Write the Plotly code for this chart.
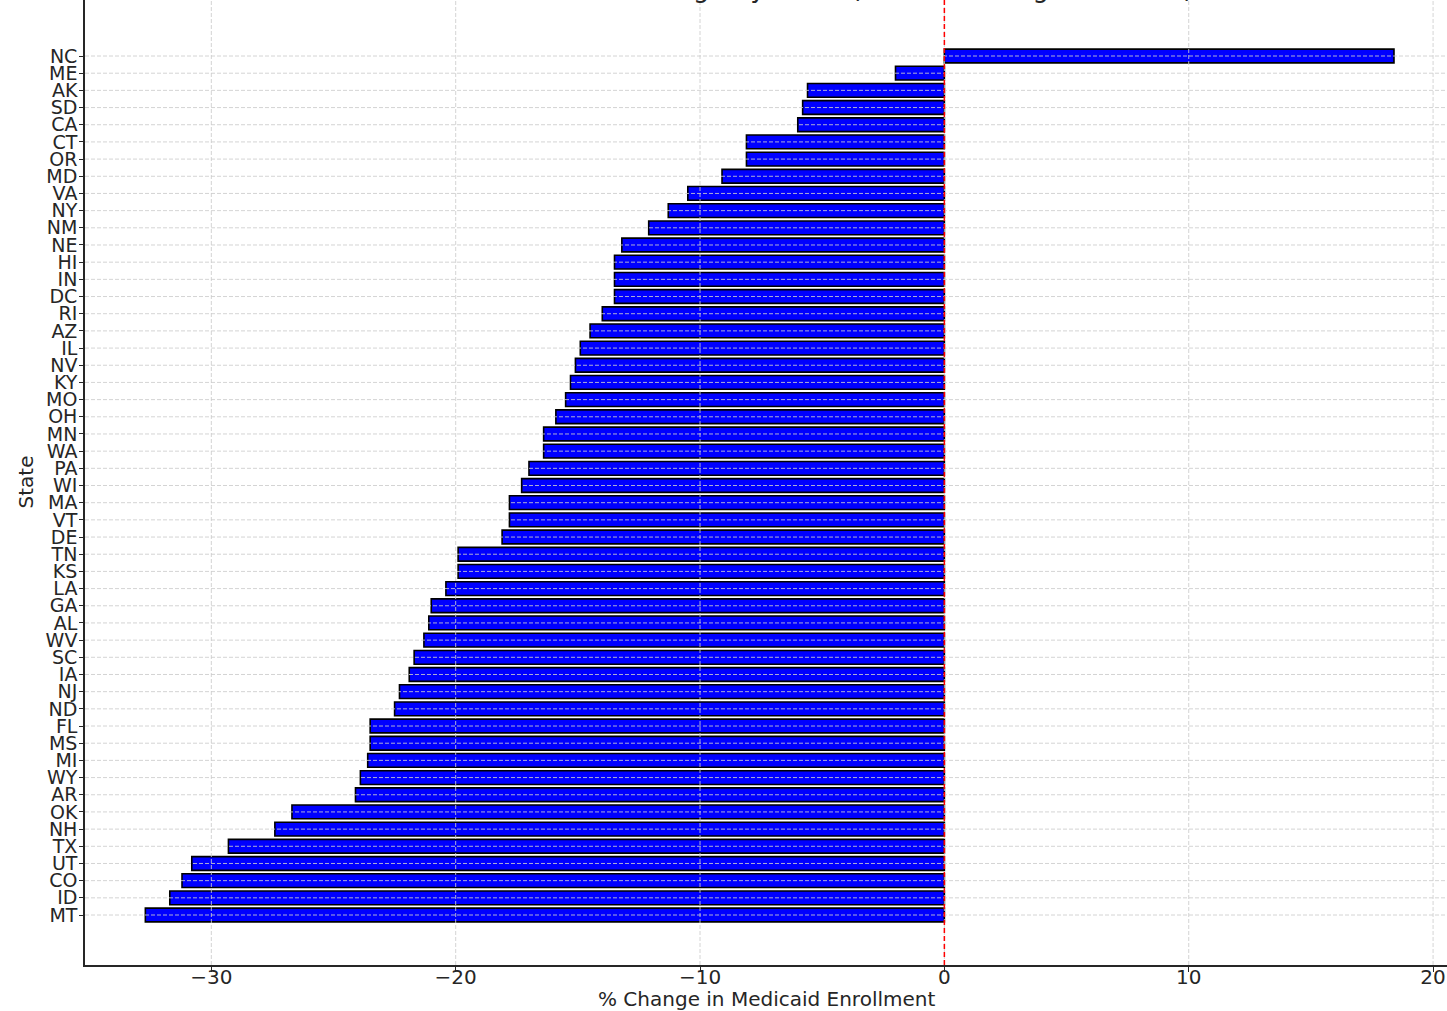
import plotly.graph_objects as go

# States listed top to bottom as displayed
states = ["NC", "ME", "AK", "SD", "CA", "CT", "OR", "MD", "VA", "NY", "NM", "NE",
          "HI", "IN", "DC", "RI", "AZ", "IL", "NV", "KY", "MO", "OH", "MN", "WA",
          "PA", "WI", "MA", "VT", "DE", "TN", "KS", "LA", "GA", "AL", "WV", "SC",
          "IA", "NJ", "ND", "FL", "MS", "MI", "WY", "AR", "OK", "NH", "TX", "UT",
          "CO", "ID", "MT"]

pct_change = [18.4, -2.0, -5.6, -5.8, -6.0, -8.1, -8.1, -9.1, -10.5, -11.3, -12.1, -13.2,
              -13.5, -13.5, -13.5, -14.0, -14.5, -14.9, -15.1, -15.3, -15.5, -15.9, -16.4, -16.4,
              -17.0, -17.3, -17.8, -17.8, -18.1, -19.9, -19.9, -20.4, -21.0, -21.1, -21.3, -21.7,
              -21.9, -22.3, -22.5, -23.5, -23.5, -23.6, -23.9, -24.1, -26.7, -27.4, -29.3, -30.8,
              -31.2, -31.7, -32.7]

x_ticks = [-30, -20, -10, 0, 10, 20]

title_text = "Medicaid Enrollment Change by State (Pre-Unwinding vs. Latest)"
x_title = "% Change in Medicaid Enrollment"
y_title = "State"

font_family = "DejaVu Sans, Verdana, sans-serif"
text_color = "#262626"
grid_color = "rgba(205,205,205,0.85)"
grid_dash = "4px,2px"

fig = go.Figure()
fig.add_trace(go.Bar(
    x=pct_change,
    y=states,
    orientation="h",
    marker=dict(color="#0000ff", line=dict(color="black", width=1.6)),
    width=0.8,
    showlegend=False,
))

# grid lines drawn above the bars (as in the reference)
for s in states:
    fig.add_shape(type="line", xref="paper", yref="y", x0=0, x1=1, y0=s, y1=s,
                  line=dict(color=grid_color, width=1, dash=grid_dash), layer="above")
for t in x_ticks:
    fig.add_shape(type="line", xref="x", yref="paper", x0=t, x1=t, y0=0, y1=1,
                  line=dict(color=grid_color, width=1, dash=grid_dash), layer="above")

# reference line at zero
fig.add_shape(type="line", xref="x", yref="paper", x0=0, x1=0, y0=0, y1=1,
              line=dict(color="red", width=1.5, dash="5px,3px"), layer="above")

# title (cut off at the top edge, as in the reference)
fig.add_annotation(text=title_text, xref="paper", yref="paper", x=0.505, y=1,
                   xanchor="center", yanchor="bottom", yshift=-5, showarrow=False,
                   font=dict(size=26, color=text_color))
fig.add_annotation(text=x_title, xref="paper", yref="paper", x=0.5, y=0,
                   xanchor="center", yanchor="middle", yshift=-34, showarrow=False,
                   font=dict(size=20, color=text_color))
fig.add_annotation(text=y_title, xref="paper", yref="paper", x=0, y=0.5,
                   xanchor="center", yanchor="middle", xshift=-60, textangle=-90,
                   showarrow=False, font=dict(size=20, color=text_color))

fig.update_layout(
    width=1447,
    height=1011,
    margin=dict(l=85, r=0, t=0, b=46),
    paper_bgcolor="white",
    plot_bgcolor="white",
    font=dict(family=font_family, size=20, color=text_color),
    xaxis=dict(
        range=[-35.17, 20.57],
        tickmode="array",
        tickvals=x_ticks,
        ticks="outside", ticklen=5, tickwidth=1.2, tickcolor=text_color,
        ticklabelstandoff=-12,
        showline=True, linecolor=text_color, linewidth=1.6,
        showgrid=False,
        zeroline=False,
        automargin=False,
        tickfont=dict(size=20),
    ),
    yaxis=dict(
        type="category",
        categoryorder="array",
        categoryarray=states,
        tickmode="array",
        tickvals=states,
        ticktext=states,
        range=[52.91, -3.26],
        ticks="outside", ticklen=4, tickwidth=1.2, tickcolor=text_color,
        ticklabelstandoff=-2,
        showline=True, linecolor=text_color, linewidth=1.6,
        showgrid=False,
        zeroline=False,
        automargin=False,
        tickfont=dict(size=19),
    ),
    bargap=0.2,
)

fig.write_html("out.html",
               config={"displayModeBar": False},
               post_script="document.body.style.margin='0';document.body.style.overflow='hidden';")
